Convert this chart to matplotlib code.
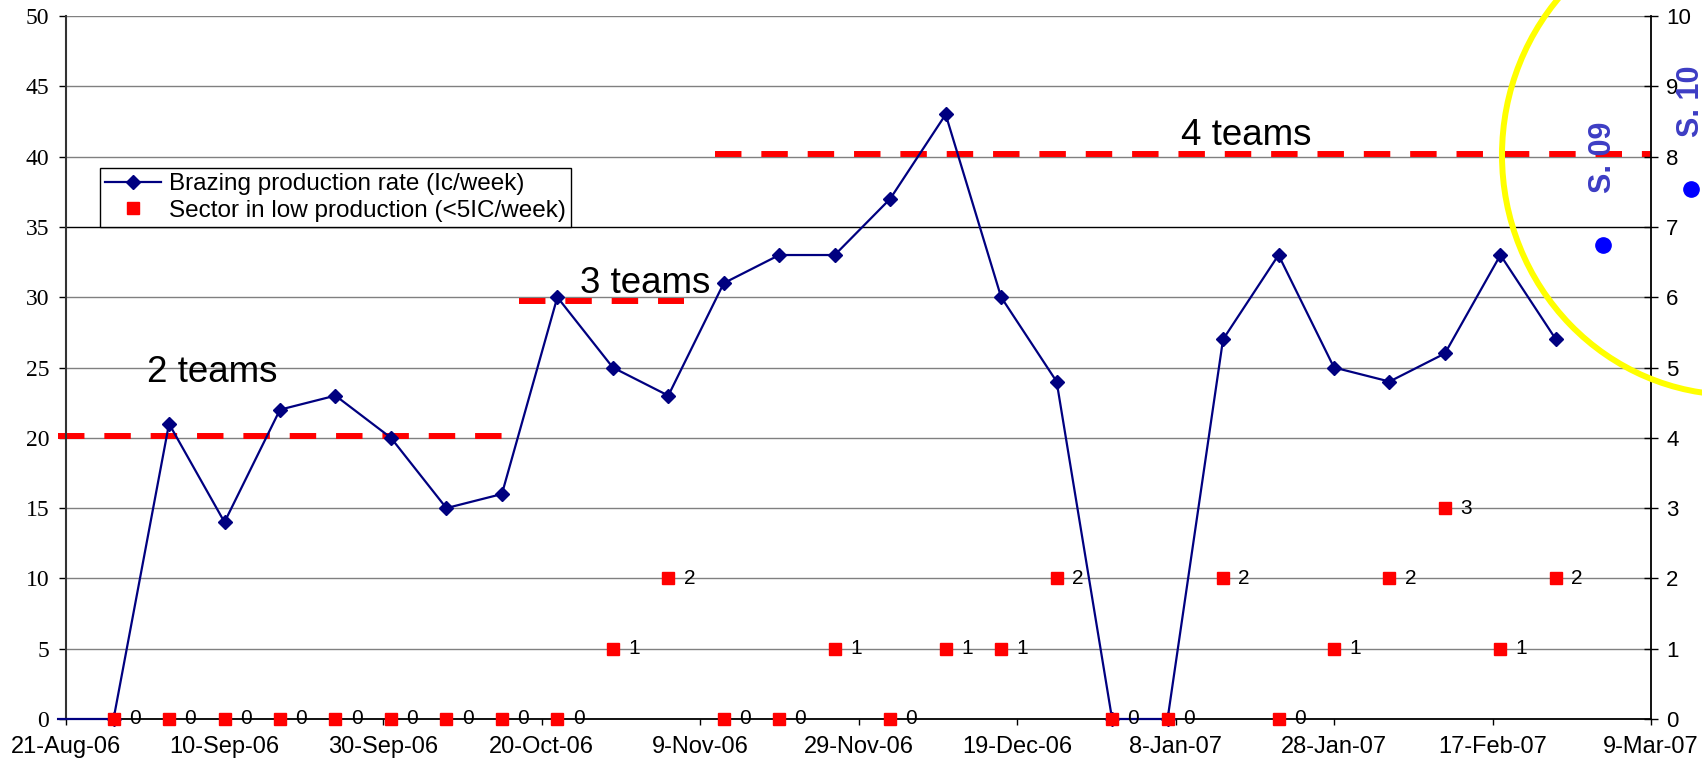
import matplotlib
matplotlib.use('Agg')
import matplotlib.pyplot as plt
import pandas as pd
from matplotlib.patches import Ellipse

plt.rcParams['font.family'] = ['Liberation Sans', 'DejaVu Sans']

# weekly brazing output, IC/week (left axis)
rate_dates = ['2006-08-20', '2006-08-27', '2006-09-03', '2006-09-10', '2006-09-17',
              '2006-09-24', '2006-10-01', '2006-10-08', '2006-10-15', '2006-10-22',
              '2006-10-29', '2006-11-05', '2006-11-12', '2006-11-19', '2006-11-26',
              '2006-12-03', '2006-12-10', '2006-12-17', '2006-12-24', '2006-12-31',
              '2007-01-07', '2007-01-14', '2007-01-21', '2007-01-28', '2007-02-04',
              '2007-02-11', '2007-02-18', '2007-02-25']
rate_values = [0, 0, 21, 14, 22, 23, 20, 15, 16, 30, 25, 23, 31, 33, 33, 37, 43,
               30, 24, 0, 0, 27, 33, 25, 24, 26, 33, 27]

# number of sectors below 5 IC/week (right axis)
low_dates = rate_dates[1:]
low_values = [0, 0, 0, 0, 0, 0, 0, 0, 0, 1, 2, 0, 0, 1, 0, 1, 1, 2, 0, 0, 2, 0,
              1, 2, 3, 1, 2]

# brazing capacity per number of teams
team_labels = ['2 teams', '3 teams', '4 teams']
team_levels = [20.1, 29.75, 40.15]
team_start = ['2006-08-20', '2006-10-17 04:00', '2006-11-10 21:30']
team_end = ['2006-10-15 07:00', '2006-11-07', '2007-03-09']

# sectors starting
sector_names = ['S. 09', 'S. 10']
sector_dates = ['2007-03-03', '2007-03-14']
sector_values = [6.74, 7.54]

tick_dates = ['2006-08-21', '2006-09-10', '2006-09-30', '2006-10-20', '2006-11-09',
              '2006-11-29', '2006-12-19', '2007-01-08', '2007-01-28', '2007-02-17',
              '2007-03-09']
tick_labels = ['21-Aug-06', '10-Sep-06', '30-Sep-06', '20-Oct-06', '9-Nov-06',
               '29-Nov-06', '19-Dec-06', '8-Jan-07', '28-Jan-07', '17-Feb-07',
               '9-Mar-07']

W, H = 1702, 758
fig = plt.figure(figsize=(W / 100, H / 100), dpi=100)
ax = fig.add_axes([66 / W, 1 - 719 / H, (1651 - 66) / W, (719 - 16) / H])
ax2 = ax.twinx()

rd = [pd.Timestamp(d) for d in rate_dates]
ld = [pd.Timestamp(d) for d in low_dates]

# team capacity dashes
for lvl, s, e in zip(team_levels, team_start, team_end):
    ax.plot([pd.Timestamp(s), pd.Timestamp(e)], [lvl, lvl], color='#FF0000',
            lw=4.3, linestyle=(0, (4.43, 3.33)), dash_capstyle='butt',
            solid_capstyle='butt', zorder=2, clip_on=False)

label_pos = [('2006-08-31 05:00', 23.94), ('2006-10-24 21:00', 30.3),
             ('2007-01-08 17:00', 40.83)]
for txt, (x, y) in zip(team_labels, label_pos):
    ax.text(pd.Timestamp(x), y, txt, fontsize=26.5, ha='left', va='baseline',
            color='black', zorder=4)

rate_line, = ax.plot(rd, rate_values, color='#000080', lw=1.6, marker='D',
                     ms=7, mfc='#000080', mec='#000080',
                     markevery=list(range(1, len(rd))), zorder=3, clip_on=False,
                     label='Brazing production rate (Ic/week)')

low_pts, = ax2.plot(ld, low_values, linestyle='none', marker='s', ms=9,
                    color='#FF0000', label='Sector in low production (<5IC/week)',
                    zorder=3, clip_on=False)
for d, v in zip(ld, low_values):
    ax2.annotate(str(v), (d, v), xytext=(11, 0), textcoords='offset points',
                 ha='left', va='center', fontsize=15, color='black')

sd = [pd.Timestamp(d) for d in sector_dates]
ax2.plot(sd, sector_values, linestyle='none', marker='o', ms=11,
         color='#0000FF', clip_on=False, zorder=5)
for name, d, v in zip(sector_names, sd, sector_values):
    ax2.annotate(name, (d, v), xytext=(0, 63), textcoords='offset points',
                 rotation=90, ha='center', va='center', fontsize=22,
                 fontweight='bold', color='#3D3DC4', annotation_clip=False)

# axes and scales
ax.set_xlim(pd.Timestamp('2006-08-21'), pd.Timestamp('2007-03-09'))
ax.set_ylim(0, 50)
ax2.set_ylim(0, 10)
ax.set_yticks(range(0, 51, 5))
ax2.set_yticks(range(0, 11))
ax.set_xticks([pd.Timestamp(d) for d in tick_dates])
ax.set_xticklabels(tick_labels)

ax.yaxis.grid(True, color='#808080', lw=1)
ax.set_axisbelow(True)
ax.get_ygridlines()[7].set_color('black')

ax.tick_params(axis='y', direction='out', length=5, width=1, pad=7,
               labelsize=17, colors='black')
for t in ax.get_yticklabels():
    t.set_fontfamily(['Liberation Serif', 'DejaVu Serif'])
ax.tick_params(axis='x', direction='out', length=4.3, width=1, pad=8,
               labelsize=17)
ax2.tick_params(axis='y', direction='inout', length=10, width=1, pad=6,
                labelsize=16)

ax.spines['top'].set_visible(False)
ax2.spines['top'].set_visible(False)
ax2.spines['left'].set_visible(False)
ax2.spines['bottom'].set_visible(False)
ax.spines['right'].set_visible(False)
ax.spines['left'].set_color('#333333')
ax.spines['left'].set_linewidth(1.5)
ax.spines['bottom'].set_linewidth(1.3)
ax2.spines['right'].set_linewidth(1.3)

leg = ax2.legend(handles=[rate_line, low_pts], loc='upper left',
                 bbox_to_anchor=(100 / W, 1 - 168 / H),
                 bbox_transform=fig.transFigure, borderaxespad=0,
                 fontsize=17.5, frameon=True, fancybox=False, framealpha=1,
                 edgecolor='black', borderpad=0.22, handlelength=2.3,
                 handletextpad=0.3, labelspacing=0.18)
leg.get_frame().set_linewidth(1)

fig.add_artist(Ellipse((1735 / W, 1 - 155 / H), 466 / W, 480 / H,
                       transform=fig.transFigure, fill=False,
                       ec='#FFFF00', lw=4.3, zorder=10))

fig.savefig('out.png', dpi=100)
